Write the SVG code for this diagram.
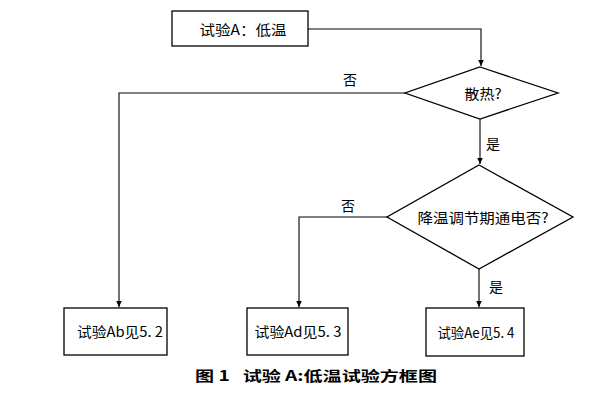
<svg xmlns="http://www.w3.org/2000/svg" width="596" height="404" viewBox="0 0 596 404">
<defs>
<marker id="arr" markerWidth="6" markerHeight="8" refX="6" refY="4" orient="auto" markerUnits="userSpaceOnUse">
<path d="M0,1.2 L6,4 L0,6.8 Z" fill="#000"/>
</marker>
</defs>
<style>
.box{fill:#fff;stroke:#000;stroke-width:1.3}
.ln{fill:none;stroke:#000;stroke-width:1.1}
.t{font-family:"Noto Sans CJK SC","Liberation Serif",serif;font-size:14px;fill:#000;text-anchor:middle;dominant-baseline:central}
.cap{font-family:"Noto Sans CJK SC","Liberation Sans",sans-serif;font-size:14px;font-weight:bold;fill:#000;dominant-baseline:central}
</style>
<rect width="596" height="404" fill="#fff"/>
<g id="connectors">
<path class="ln" d="M308,29 H481 V66" marker-end="url(#arr)"/>
<path class="ln" d="M405,93 H119 V307" marker-end="url(#arr)"/>
<path class="ln" d="M480,119 V164" marker-end="url(#arr)"/>
<path class="ln" d="M387,217 H299 V307" marker-end="url(#arr)"/>
<path class="ln" d="M479,269 V307" marker-end="url(#arr)"/>
<text class="t" x="350" y="79">否</text>
<text class="t" x="493" y="143">是</text>
<text class="t" x="348" y="205">否</text>
<text class="t" x="496" y="286">是</text>
</g>
<g id="start">
<rect class="box" x="172" y="11" width="136" height="35"/>
<text class="t" x="243" y="29" textLength="87" lengthAdjust="spacingAndGlyphs">试验A：低温</text>
</g>
<g id="d1">
<polygon class="box" points="480,67 558,93 480,119 405,93"/>
<text class="t" x="483" y="93" textLength="37" lengthAdjust="spacingAndGlyphs">散热?</text>
</g>
<g id="d2">
<polygon class="box" points="479,165 573,217 479,269 387,217"/>
<text class="t" x="483" y="217" textLength="131" lengthAdjust="spacingAndGlyphs">降温调节期通电否?</text>
</g>
<g id="ab">
<rect class="box" x="64" y="308" width="103" height="47"/>
<text class="t" x="120" y="331" textLength="86" lengthAdjust="spacingAndGlyphs">试验Ab见5. 2</text>
</g>
<g id="ad">
<rect class="box" x="247" y="308" width="101" height="47"/>
<text class="t" x="298" y="331" textLength="87" lengthAdjust="spacingAndGlyphs">试验Ad见5. 3</text>
</g>
<g id="ae">
<rect class="box" x="426" y="308" width="98" height="48"/>
<text class="t" x="476" y="332" textLength="77" lengthAdjust="spacingAndGlyphs">试验Ae见5. 4</text>
</g>
<g id="caption">
<text class="cap" x="195" y="375" textLength="242" lengthAdjust="spacingAndGlyphs" xml:space="preserve">图 1   试验 A:低温试验方框图</text>
</g>
</svg>
